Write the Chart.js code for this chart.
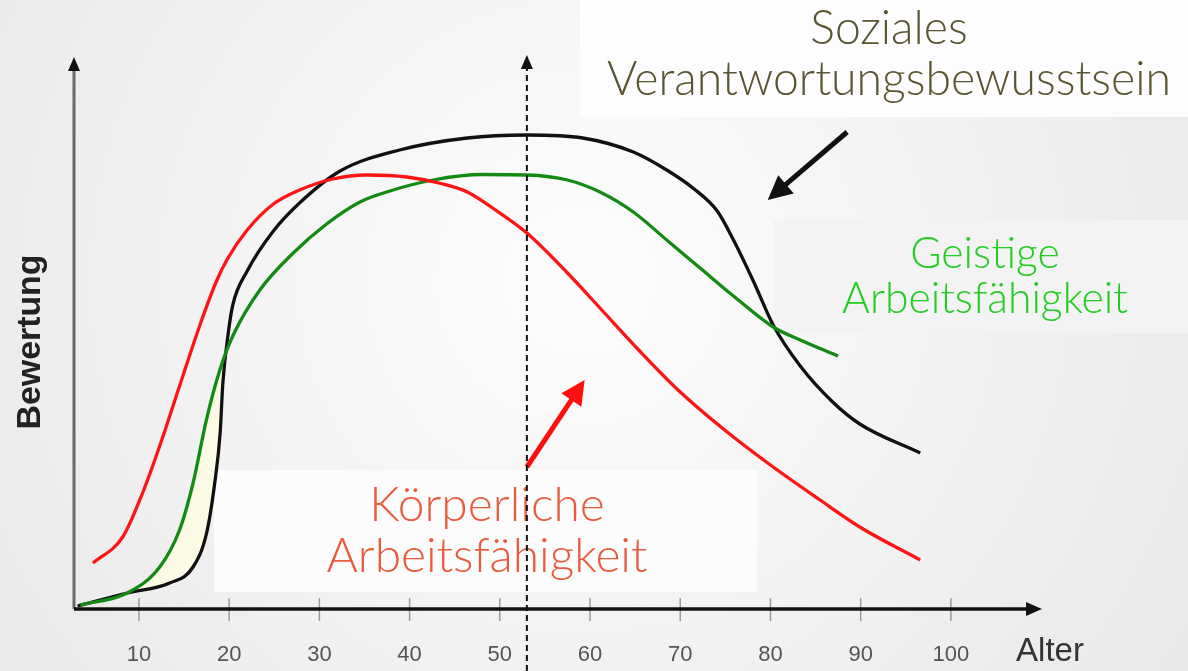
<!DOCTYPE html>
<html>
<head>
<meta charset="utf-8">
<script src="https://cdn.jsdelivr.net/npm/chart.js@4.4.1/dist/chart.umd.min.js"></script>
<style>
  html, body { margin: 0; padding: 0; background: #f0f0f0; }
  #wrap { width: 1188px; height: 671px; }
</style>
</head>
<body>
<div id="wrap"><canvas id="chart" width="1188" height="671"></canvas></div>
<script>
// Werte (Alter / Bewertung)
const ageTicks = [10, 20, 30, 40, 50, 60, 70, 80, 90, 100];

const koerperAge = [4.9, 8.2, 10.4, 12.3, 14.5, 16.8, 18.6, 19.8, 22.0, 24.9, 27.8, 31.5, 35.3, 39.7, 43.7, 46.4, 49.2, 53.0, 57.4, 61.1, 65.5, 70.0, 75.2, 80.3, 85.5, 89.9, 96.6];
const koerperVal = [9.2, 14.4, 23.2, 32.6, 44.6, 57.0, 65.6, 70.0, 75.8, 81.0, 83.8, 86.0, 86.8, 86.4, 85.0, 83.4, 80.2, 75.2, 67.4, 60.2, 51.6, 43.4, 35.4, 28.4, 21.8, 16.4, 9.8];

const geistigAge = [3.5, 8.7, 12.3, 14.5, 16.0, 17.5, 19.0, 20.4, 23.4, 27.1, 30.8, 34.5, 37.1, 42.6, 48.1, 53.0, 57.5, 61.1, 64.8, 68.5, 72.2, 75.9, 80.3, 83.3, 87.5];
const geistigVal = [0.8, 3.2, 8.4, 15.8, 25.2, 38.0, 48.0, 54.6, 63.8, 71.2, 77.0, 81.4, 83.2, 85.8, 86.9, 86.8, 85.8, 83.4, 79.4, 73.8, 68.2, 62.6, 56.4, 53.8, 50.6];

const sozialAge = [3.2, 8.7, 13.4, 16.0, 17.5, 18.4, 19.0, 19.3, 19.9, 20.4, 22.0, 24.9, 27.8, 32.3, 38.9, 46.4, 53.0, 59.2, 64.8, 68.5, 71.4, 74.1, 75.9, 78.1, 80.3, 83.3, 86.9, 89.9, 96.6];
const sozialVal = [0.6, 3.2, 5.2, 8.4, 15.2, 25.2, 35.2, 45.2, 55.2, 60.8, 67.6, 75.6, 81.2, 87.6, 91.8, 94.2, 94.8, 94.2, 91.4, 87.8, 84.2, 79.6, 73.8, 65.6, 56.8, 48.6, 41.4, 37.0, 31.2];

// gestrichelte Linie und Pfeile (Alter, Bewertung)
const markerAge = 53;
const sozialArrow = [88.5, 95.4, 79.7, 81.8];
const koerperArrow = [53.0, 28.4, 59.4, 45.8];

function toPoints(xs, ys) {
    return xs.map((x, i) => ({ x: x, y: ys[i] }));
}

const koerperPts = toPoints(koerperAge, koerperVal);
const geistigPts = toPoints(geistigAge, geistigVal);
const sozialPts = toPoints(sozialAge, sozialVal);

function fitFont(ctx, text, width, family, weight) {
    ctx.font = `${weight} 100px ${family}`;
    return 100 * width / ctx.measureText(text).width;
}

function drawArrow(ctx, x1, y1, x2, y2, color, lw, headLen, headW) {
    const a = Math.atan2(y2 - y1, x2 - x1);
    const bx = x2 - Math.cos(a) * headLen, by = y2 - Math.sin(a) * headLen;
    ctx.save();
    ctx.strokeStyle = color;
    ctx.fillStyle = color;
    ctx.lineWidth = lw;
    ctx.beginPath();
    ctx.moveTo(x1, y1);
    ctx.lineTo(bx + Math.cos(a) * 2, by + Math.sin(a) * 2);
    ctx.stroke();
    ctx.beginPath();
    ctx.moveTo(x2, y2);
    ctx.lineTo(bx - Math.sin(a) * headW, by + Math.cos(a) * headW);
    ctx.lineTo(bx + Math.sin(a) * headW, by - Math.cos(a) * headW);
    ctx.closePath();
    ctx.fill();
    ctx.restore();
}

function drawLabel(ctx, lines, cx, baselines, width, color) {
    const family = 'Lato, "Noto Sans", sans-serif';
    const size = fitFont(ctx, lines[lines.length - 1], width, family, 300);
    ctx.font = `300 ${size}px ${family}`;
    ctx.fillStyle = color;
    ctx.textAlign = 'center';
    ctx.textBaseline = 'alphabetic';
    lines.forEach((t, i) => ctx.fillText(t, cx, baselines[i]));
}

const decorPlugin = {
    id: 'decor',
    beforeDraw(chart) {
        const ctx = chart.ctx;
        ctx.save();
        const g = ctx.createRadialGradient(580, 280, 40, 580, 280, 800);
        g.addColorStop(0, '#fcfcfc');
        g.addColorStop(1, '#e6e6e6');
        ctx.fillStyle = g;
        ctx.fillRect(0, 0, chart.width, chart.height);
        // weisse Textkaesten
        ctx.fillStyle = '#fdfdfd';
        ctx.fillRect(580, 0, 608, 117);
        ctx.fillStyle = '#f3f3f3';
        ctx.fillRect(773, 220, 415, 113);
        ctx.fillStyle = '#fcfcfc';
        ctx.fillRect(214, 470, 543, 122);
        ctx.restore();
    },
    afterDatasetsDraw(chart) {
        const ctx = chart.ctx;
        const xs = chart.scales.x, ys = chart.scales.y;
        const area = chart.chartArea;
        ctx.save();

        // y-Achse
        ctx.strokeStyle = '#6a6a6a';
        ctx.lineWidth = 3;
        ctx.beginPath();
        ctx.moveTo(area.left, area.bottom);
        ctx.lineTo(area.left, area.top + 12);
        ctx.stroke();
        drawArrow(ctx, area.left, area.top + 14, area.left, area.top, '#111', 1, 14, 6);

        // x-Achse mit Teilstrichen
        ctx.strokeStyle = '#9a9a9a';
        ctx.lineWidth = 1.5;
        ageTicks.forEach(a => {
            const px = xs.getPixelForValue(a);
            ctx.beginPath();
            ctx.moveTo(px, area.bottom - 11);
            ctx.lineTo(px, area.bottom + 12);
            ctx.stroke();
        });
        ctx.strokeStyle = '#111';
        ctx.lineWidth = 3.5;
        ctx.beginPath();
        ctx.moveTo(area.left, area.bottom);
        ctx.lineTo(area.right - 12, area.bottom);
        ctx.stroke();
        drawArrow(ctx, area.right - 14, area.bottom, area.right, area.bottom, '#111', 1, 16, 7);

        // Achsentitel
        ctx.fillStyle = '#333';
        ctx.font = '33px "Liberation Sans", Arial, sans-serif';
        ctx.textAlign = 'center';
        ctx.textBaseline = 'middle';
        ctx.fillText('Alter', 1050, 652);

        ctx.save();
        ctx.translate(31, 342);
        ctx.rotate(-Math.PI / 2);
        const bsize = fitFont(ctx, 'Bewertung', 175, '"Liberation Sans", Arial, sans-serif', 'bold');
        ctx.font = `bold ${bsize}px "Liberation Sans", Arial, sans-serif`;
        ctx.fillStyle = '#222';
        ctx.fillText('Bewertung', 0, 0);
        ctx.restore();

        // Beschriftungen
        drawLabel(ctx, ['Soziales', 'Verantwortungsbewusstsein'], 889, [44, 95], 564, '#5a5530');
        drawLabel(ctx, ['Geistige', 'Arbeitsfähigkeit'], 985, [268, 313], 286, '#22cc22');
        drawLabel(ctx, ['Körperliche', 'Arbeitsfähigkeit'], 487, [521, 572], 321, '#ea5a3c');

        // Pfeile
        drawArrow(ctx, xs.getPixelForValue(sozialArrow[0]), ys.getPixelForValue(sozialArrow[1]),
            xs.getPixelForValue(sozialArrow[2]), ys.getPixelForValue(sozialArrow[3]), '#111', 5, 24, 12);
        drawArrow(ctx, xs.getPixelForValue(koerperArrow[0]), ys.getPixelForValue(koerperArrow[1]),
            xs.getPixelForValue(koerperArrow[2]), ys.getPixelForValue(koerperArrow[3]), '#ff1010', 5, 24, 12);

        // gestrichelte Linie
        const mx = xs.getPixelForValue(markerAge);
        ctx.strokeStyle = '#111';
        ctx.lineWidth = 2;
        ctx.setLineDash([6, 4]);
        ctx.beginPath();
        ctx.moveTo(mx, chart.height);
        ctx.lineTo(mx, area.top + 12);
        ctx.stroke();
        ctx.setLineDash([]);
        drawArrow(ctx, mx, area.top + 14, mx, area.top - 2, '#111', 1, 14, 6);

        ctx.restore();
    }
};

const lineStyle = {
    borderWidth: 3.3,
    pointRadius: 0,
    cubicInterpolationMode: 'monotone',
    fill: false
};

new Chart(document.getElementById('chart'), {
    type: 'line',
    data: {
        datasets: [
            Object.assign({ label: 'Körperliche Arbeitsfähigkeit', data: koerperPts, borderColor: '#ff1414' }, lineStyle),
            Object.assign({ label: 'Geistige Arbeitsfähigkeit', data: geistigPts, borderColor: '#138a13' }, lineStyle),
            Object.assign({ label: 'Soziales Verantwortungsbewusstsein', data: sozialPts, borderColor: '#111111' }, lineStyle),
            {
                label: 'Flaeche',
                data: geistigPts.filter(p => p.x <= 20.5),
                borderWidth: 0,
                pointRadius: 0,
                cubicInterpolationMode: 'monotone',
                fill: { target: 2, above: '#fbfae4', below: 'rgba(0,0,0,0)' }
            }
        ]
    },
    options: {
        responsive: false,
        animation: false,
        devicePixelRatio: 1,
        layout: { padding: { left: 74, right: 146, top: 57, bottom: 0 } },
        plugins: {
            legend: { display: false },
            tooltip: { enabled: false }
        },
        scales: {
            x: {
                type: 'linear',
                min: 2.8,
                max: 110.1,
                afterBuildTicks: s => { s.ticks = ageTicks.map(v => ({ value: v })); },
                afterFit: s => { s.height = 62; },
                grid: { display: false, drawTicks: false },
                border: { display: false },
                ticks: {
                    autoSkip: false,
                    maxRotation: 0,
                    padding: 33,
                    color: '#555',
                    font: { family: '"Liberation Sans Narrow", "Liberation Sans", Arial, sans-serif', size: 22 }
                }
            },
            y: {
                display: false,
                min: 0,
                max: 110.4
            }
        }
    },
    plugins: [decorPlugin]
});
</script>
</body>
</html>
